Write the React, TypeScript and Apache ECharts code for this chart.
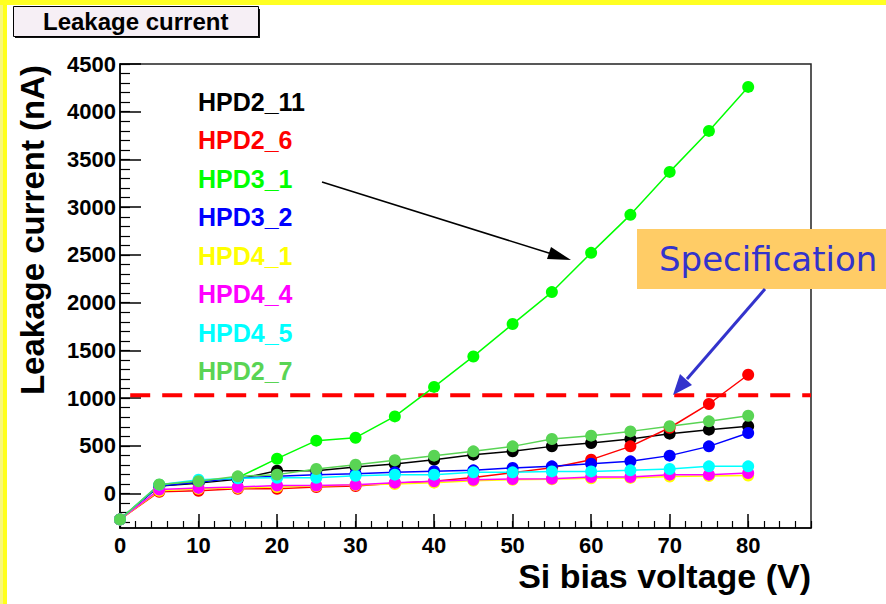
import React, { useEffect, useRef } from "react";
import * as echarts from "echarts";

// ---- data ----
const voltages = [0, 5, 10, 15, 20, 25, 30, 35, 40, 45, 50, 55, 60, 65, 70, 75, 80];
const hpd2_11 = [-270, 80, 110, 150, 240, 240, 280, 310, 356, 408, 443, 495, 530, 572, 628, 670, 705];
const hpd2_6 = [-270, 20, 30, 50, 50, 70, 80, 110, 130, 170, 220, 270, 356, 495, 690, 939, 1245];
const hpd3_1 = [-270, 90, 125, 167, 366, 555, 586, 809, 1118, 1437, 1776, 2111, 2522, 2920, 3370, 3799, 4260];
const hpd3_2 = [-270, 80, 120, 165, 181, 199, 209, 223, 235, 244, 269, 286, 314, 338, 398, 495, 635];
const hpd4_1 = [-270, 30, 50, 60, 70, 80, 90, 100, 115, 135, 145, 150, 160, 165, 180, 185, 190];
const hpd4_4 = [-270, 42, 60, 70, 84, 84, 94, 115, 129, 146, 153, 157, 174, 174, 199, 199, 215];
const hpd4_5 = [-270, 94, 146, 160, 167, 167, 188, 199, 199, 223, 223, 233, 233, 244, 258, 286, 286];
const hpd2_7 = [-270, 95, 129, 181, 199, 258, 303, 349, 398, 443, 495, 572, 607, 652, 705, 757, 816];

const seriesNames = ["HPD2_11", "HPD2_6", "HPD3_1", "HPD3_2", "HPD4_1", "HPD4_4", "HPD4_5", "HPD2_7"];
const seriesValues = [hpd2_11, hpd2_6, hpd3_1, hpd3_2, hpd4_1, hpd4_4, hpd4_5, hpd2_7];
const seriesColors = ["#000000", "#ff0000", "#00ff00", "#0000ff", "#ffff00", "#ff00ff", "#00ffff", "#59d454"];

const specLevel = 1030;
const specStartX = 1.3;
const specEndX = 88;

const xMin = 0;
const xMax = 88;
const yMin = -360;
const yMax = 4500;
const xMajorTicks = [0, 10, 20, 30, 40, 50, 60, 70, 80];
const xMinorTicks = [0, 2, 4, 6, 8, 10, 12, 14, 16, 18, 20, 22, 24, 26, 28, 30, 32, 34, 36, 38, 40, 42, 44, 46, 48, 50, 52, 54, 56, 58, 60, 62, 64, 66, 68, 70, 72, 74, 76, 78, 80, 82, 84, 86, 88];
const yMajorTicks = [0, 500, 1000, 1500, 2000, 2500, 3000, 3500, 4000, 4500];
const yMinorTicks = [-300, -200, -100, 0, 100, 200, 300, 400, 500, 600, 700, 800, 900, 1000, 1100, 1200, 1300, 1400, 1500, 1600, 1700, 1800, 1900, 2000, 2100, 2200, 2300, 2400, 2500, 2600, 2700, 2800, 2900, 3000, 3100, 3200, 3300, 3400, 3500, 3600, 3700, 3800, 3900, 4000, 4100, 4200, 4300, 4400, 4500];

const FONT = "'Liberation Sans', Arial, Helvetica, sans-serif";

export default function App() {
  const ref = useRef<HTMLDivElement>(null);

  useEffect(() => {
    if (!ref.current) return;
    const chart = echarts.init(ref.current, undefined, { renderer: "svg" });

    const dataSeries = seriesNames.map((name, i) => ({
      type: "line",
      name,
      xAxisIndex: 0,
      yAxisIndex: 0,
      data: voltages.map((v, k) => [v, seriesValues[i][k]]),
      symbol: "circle",
      symbolSize: 12,
      itemStyle: { color: seriesColors[i] },
      lineStyle: { color: seriesColors[i], width: 1.5 },
      emphasis: { disabled: true },
    }));

    const option: any = {
      animation: false,
      backgroundColor: "#ffffff",
      title: {
        text: "Leakage current",
        left: 13,
        top: 7,
        padding: [3, 30, 3, 30],
        backgroundColor: "#f6eff5",
        borderColor: "#000000",
        borderWidth: 1,
        textStyle: { fontFamily: FONT, fontSize: 24, fontWeight: "bold", color: "#000000", lineHeight: 23 },
      },
      legend: {
        orient: "vertical",
        left: 188,
        top: 84,
        icon: "none",
        itemWidth: 0,
        itemHeight: 22,
        itemGap: 13.5,
        selectedMode: false,
        textStyle: { fontFamily: FONT, fontSize: 25, fontWeight: "bold", lineHeight: 24 },
        data: seriesNames.map((n, i) => ({ name: n, textStyle: { color: seriesColors[i] } })),
      },
      grid: {
        left: 120,
        top: 64,
        right: 75,
        bottom: 76,
        show: true,
        borderColor: "#222222",
        borderWidth: 1.5,
        backgroundColor: "#ffffff",
        containLabel: false,
        outerBoundsMode: "none",
      },
      xAxis: [
        {
          type: "value",
          min: xMin,
          max: xMax,
          position: "bottom",
          axisLine: { onZero: false, lineStyle: { color: "#000000", width: 1.5 } },
          axisTick: { inside: true, length: 14, customValues: xMajorTicks, lineStyle: { color: "#000000", width: 1.5 } },
          axisLabel: {
            customValues: xMajorTicks,
            formatter: (v: number) => String(v),
            fontFamily: FONT,
            fontSize: 22,
            fontWeight: "bold",
            color: "#000000",
            margin: 6,
          },
          splitLine: { show: false },
          name: "Si bias voltage (V)",
          nameLocation: "end",
          nameGap: 0,
          nameMoveOverlap: false,
          nameTextStyle: {
            fontFamily: FONT,
            fontSize: 34,
            fontWeight: "bold",
            color: "#000000",
            align: "right",
            verticalAlign: "top",
            lineHeight: 34,
            padding: [31, 0, 0, 0],
          },
        },
        {
          type: "value",
          min: xMin,
          max: xMax,
          position: "bottom",
          axisLine: { show: false, onZero: false },
          axisTick: { inside: true, length: 7, customValues: xMinorTicks, lineStyle: { color: "#000000", width: 1.2 } },
          axisLabel: { show: false },
          splitLine: { show: false },
        },
      ],
      yAxis: [
        {
          type: "value",
          min: yMin,
          max: yMax,
          position: "left",
          axisLine: { onZero: false, lineStyle: { color: "#000000", width: 1.5 } },
          axisTick: { inside: true, length: 21, customValues: yMajorTicks, lineStyle: { color: "#000000", width: 1.5 } },
          axisLabel: {
            customValues: yMajorTicks,
            formatter: (v: number) => String(v),
            fontFamily: FONT,
            fontSize: 22,
            fontWeight: "bold",
            color: "#000000",
            margin: 4,
          },
          splitLine: { show: false },
          name: "Leakage current (nA)",
          nameLocation: "middle",
          nameRotate: 90,
          nameGap: 72,
          nameMoveOverlap: false,
          nameTextStyle: {
            fontFamily: FONT,
            fontSize: 33,
            fontWeight: "bold",
            color: "#000000",
            lineHeight: 32,
            padding: [0, 0, 0, 132],
          },
        },
        {
          type: "value",
          min: yMin,
          max: yMax,
          position: "left",
          axisLine: { show: false, onZero: false },
          axisTick: { inside: true, length: 10, customValues: yMinorTicks, lineStyle: { color: "#000000", width: 1.2 } },
          axisLabel: { show: false },
          splitLine: { show: false },
        },
      ],
      series: [
        {
          type: "line",
          name: "Specification level",
          xAxisIndex: 0,
          yAxisIndex: 0,
          data: [
            [specStartX, specLevel],
            [specEndX, specLevel],
          ],
          showSymbol: false,
          symbol: "none",
          lineStyle: { color: "#ff0000", width: 4, type: [20, 12] },
          z: 1,
          emphasis: { disabled: true },
        },
        ...dataSeries,
      ],
      graphic: [
        // slide yellow border
        { type: "rect", shape: { x: 0, y: 0, width: 3, height: 604 }, style: { fill: "#f8f87a" }, z: 50 },
        { type: "rect", shape: { x: 3, y: 0, width: 4, height: 604 }, style: { fill: "#ffff1a" }, z: 50 },
        { type: "rect", shape: { x: 0, y: 0, width: 886, height: 5 }, style: { fill: "#ffff22" }, z: 50 },
        // title shadow
        { type: "rect", shape: { x: 15, y: 9, width: 245, height: 29 }, style: { fill: "#111111" }, z: -1 },
        // black arrow
        { type: "line", shape: { x1: 322, y1: 182, x2: 552, y2: 254 }, style: { stroke: "#000000", lineWidth: 1.5 }, z: 60 },
        { type: "polygon", shape: { points: [[571, 260], [547, 259], [551, 247]] }, style: { fill: "#000000" }, z: 60 },
        // specification box
        { type: "rect", shape: { x: 637, y: 229, width: 260, height: 60 }, style: { fill: "#ffcc66" }, z: 60 },
        {
          type: "text",
          x: 659,
          y: 259,
          z: 61,
          style: {
            text: "Specification",
            fontFamily: "'Comic Sans MS', 'DejaVu Sans', sans-serif",
            fontSize: 34,
            fill: "#3333cc",
            align: "left",
            verticalAlign: "middle",
          },
        },
        // blue arrow
        { type: "line", shape: { x1: 765, y1: 289, x2: 687, y2: 379 }, style: { stroke: "#3333cc", lineWidth: 3 }, z: 60 },
        { type: "polygon", shape: { points: [[673, 395], [680, 374], [692, 385]] }, style: { fill: "#3333cc" }, z: 60 },
      ],
    };

    chart.setOption(option);
    return () => chart.dispose();
  }, []);

  return (
    <div
      ref={ref}
      style={{ position: "fixed", left: 0, top: 0, width: 886, height: 604, background: "#ffffff" }}
    />
  );
}
